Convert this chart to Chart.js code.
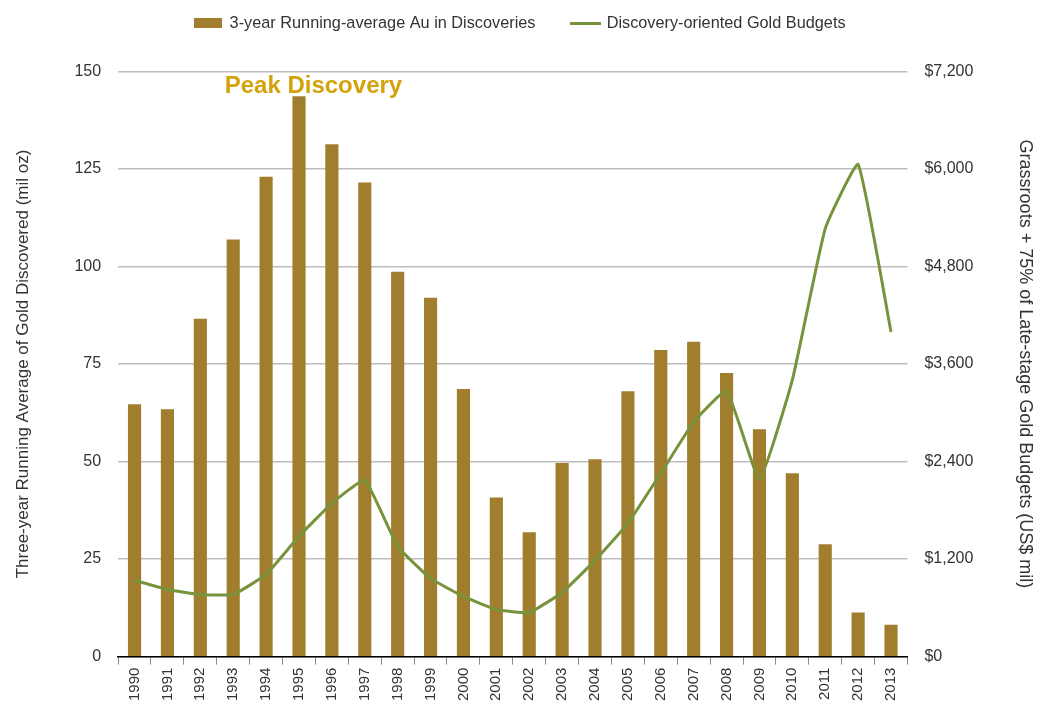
<!DOCTYPE html>
<html>
<head>
<meta charset="utf-8">
<script src="https://cdn.jsdelivr.net/npm/chart.js@4/dist/chart.umd.min.js"></script>
<style>
  html, body { margin: 0; padding: 0; background: #fff; }
  #wrap { width: 1052px; height: 708px; }
</style>
</head>
<body>
<div id="wrap"><canvas id="goldChart" width="1052" height="708"></canvas></div>
<script>
const years = ['1990', '1991', '1992', '1993', '1994', '1995', '1996', '1997', '1998', '1999', '2000', '2001',
    '2002', '2003', '2004', '2005', '2006', '2007', '2008', '2009', '2010', '2011', '2012', '2013'];
// mil oz, 3-yr running average
const auDiscovered = [64.7, 63.4, 86.6, 106.9, 123, 143.6, 131.3, 121.5, 98.6, 92, 68.6, 40.8,
    31.9, 49.6, 50.6, 68, 78.6, 80.7, 72.7, 58.3, 47, 28.8, 11.3, 8.2];
// US$ mil
const goldBudgets = [937, 826, 764, 764, 1011, 1480, 1886, 2170, 1356, 962, 740, 580,
    543, 789, 1184, 1640, 2256, 2885, 3268, 2182, 3403, 5265, 6054, 3995];
const leftTicks = [0, 25, 50, 75, 100, 125, 150];
const rightTicks = [0, 1200, 2400, 3600, 4800, 6000, 7200];

const barColor = '#A07E2E';
const lineColor = '#77933C';
const fontFam = '"Liberation Sans", Arial, sans-serif';

function legendSwatch(w, h, color) {
    let c = document.createElement('canvas');
    c.width = w; c.height = h;
    let g = c.getContext('2d');
    g.fillStyle = color;
    g.fillRect(0, 0, w, h);
    return c;
}
const barSwatch = legendSwatch(28, 10, barColor);
const lineSwatch = legendSwatch(31, 3, lineColor);

// extra room between legend and plot, legend nudged left a little
const legendGap = {
    id: 'legendGap',
    beforeInit(chart) {
        const fit = chart.legend.fit;
        chart.legend.fit = function () {
            fit.call(this);
            this.height += 30;
        };
    },
    afterLayout(chart) {
        chart.legend.left -= 8;
        chart.legend.right -= 8;
    }
};

// "Peak Discovery" annotation
const peakLabel = {
    id: 'peakLabel',
    afterDraw(chart) {
        const x = chart.scales.x, y = chart.scales.y;
        const ctx = chart.ctx;
        ctx.save();
        ctx.font = 'bold 24px ' + fontFam;
        ctx.fillStyle = '#D4A20A';
        ctx.textAlign = 'center';
        ctx.textBaseline = 'middle';
        let px = (x.getPixelForValue(5) + x.getPixelForValue(6)) / 2 - 2;
        ctx.fillText('Peak Discovery', px, y.getPixelForValue(146.2));
        ctx.restore();
    }
};

const data = {
    labels: years,
    datasets: [{
            type: 'line',
            label: 'Discovery-oriented Gold Budgets',
            data: goldBudgets,
            yAxisID: 'y1',
            borderColor: lineColor,
            backgroundColor: lineColor,
            borderWidth: 3,
            pointRadius: 0,
            tension: 0.12,
            order: 0,
            pointStyle: lineSwatch
        }, {
            type: 'bar',
            label: '3-year Running-average Au in Discoveries',
            data: auDiscovered,
            yAxisID: 'y',
            backgroundColor: barColor,
            borderWidth: 0,
            barPercentage: 0.4,
            categoryPercentage: 1.0,
            order: 1,
            pointStyle: barSwatch
        }]
};

const config = {
    data: data,
    plugins: [legendGap, peakLabel],
    options: {
        responsive: false,
        animation: false,
        layout: { padding: { left: 9, right: 4, top: -22, bottom: 4 } },
        plugins: {
            tooltip: { enabled: false },
            legend: {
                position: 'top',
                reverse: true,
                labels: {
                    usePointStyle: true,
                    pointStyleWidth: 26,
                    boxHeight: 10,
                    padding: 37,
                    color: '#333',
                    font: { family: fontFam, size: 16.3 }
                }
            }
        },
        scales: {
            x: {
                offset: true,
                grid: {
                    offset: true,
                    drawOnChartArea: false,
                    drawTicks: true,
                    tickLength: 8,
                    color: '#888'
                },
                border: { color: '#000', width: 1.5 },
                ticks: {
                    minRotation: 90,
                    maxRotation: 90,
                    color: '#333',
                    font: { family: fontFam, size: 15 }
                }
            },
            y: {
                position: 'left',
                min: 0,
                max: 150,
                afterBuildTicks: (s) => { s.ticks = leftTicks.map(v => ({ value: v })); },
                grid: { color: '#BDBDBD', lineWidth: 1.5, drawTicks: false },
                border: { display: false },
                ticks: { padding: 17, color: '#333', font: { family: fontFam, size: 16 } },
                title: {
                    display: true,
                    text: 'Three-year Running Average of Gold Discovered (mil oz)',
                    color: '#333',
                    font: { family: fontFam, size: 17 },
                    padding: { bottom: 24 }
                }
            },
            y1: {
                position: 'right',
                min: 0,
                max: 7200,
                afterBuildTicks: (s) => { s.ticks = rightTicks.map(v => ({ value: v })); },
                grid: { drawOnChartArea: false, drawTicks: false },
                border: { display: false },
                ticks: {
                    padding: 17,
                    color: '#333',
                    font: { family: fontFam, size: 16 },
                    callback: (v) => '$' + v.toLocaleString('en-US')
                },
                title: {
                    display: true,
                    text: 'Grassroots + 75% of Late-stage Gold Budgets (US$ mil)',
                    color: '#333',
                    font: { family: fontFam, size: 18 },
                    padding: { top: 12, bottom: 24 }
                }
            }
        }
    }
};

let ctx = document.getElementById('goldChart').getContext('2d');
new Chart(ctx, config);
</script>
</body>
</html>
